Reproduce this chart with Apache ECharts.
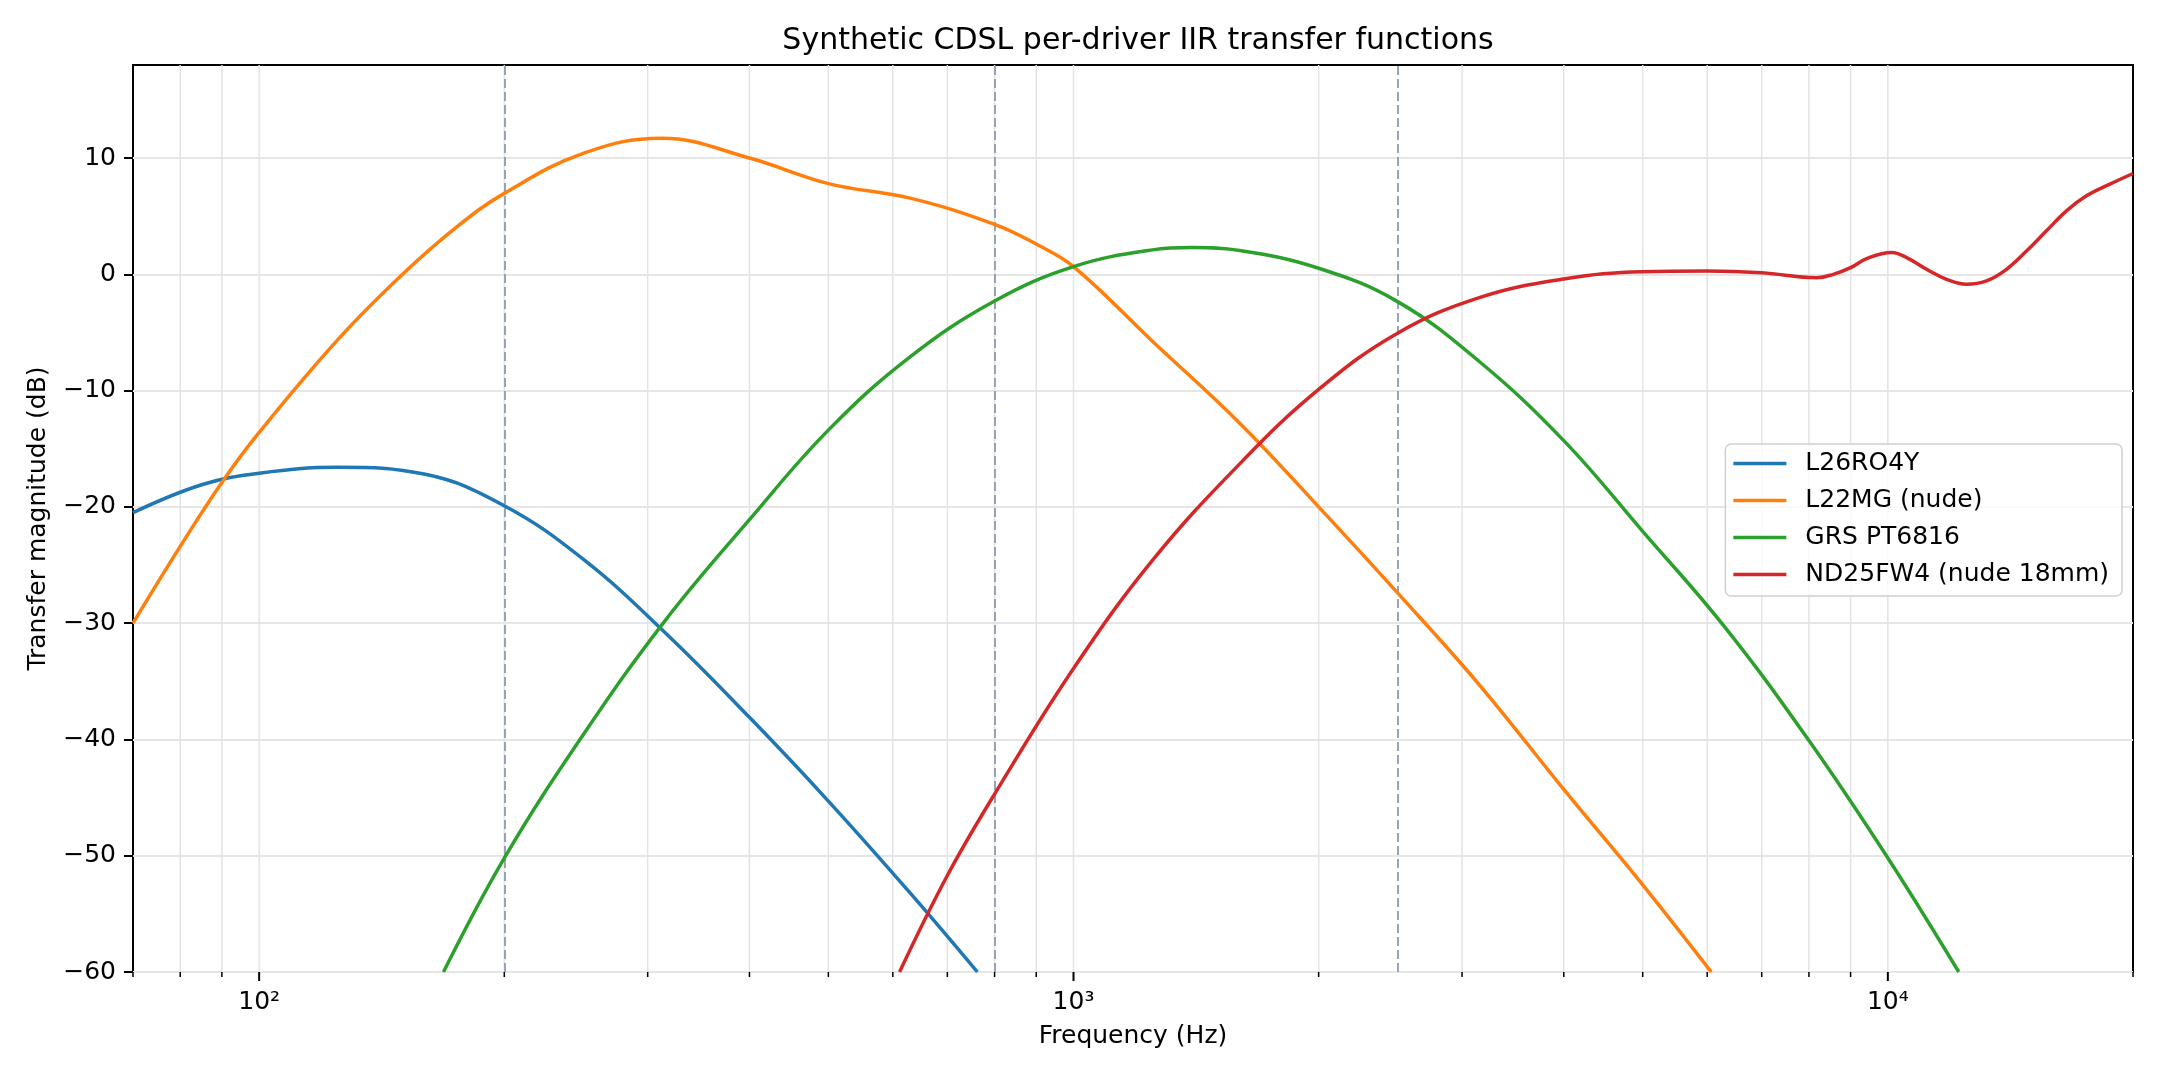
<!DOCTYPE html>
<html>
<head>
<meta charset="utf-8">
<script src="https://cdn.jsdelivr.net/npm/echarts@6/dist/echarts.min.js"></script>
<style>
  html, body { margin: 0; padding: 0; background: #fff; }
  #chart { width: 2160px; height: 1080px; }
</style>
</head>
<body>
<div id="chart"></div>
<script>
// 曲线数据 (频率 Hz / 幅度 dB)
const blueFreq = [70, 85, 100, 125, 160, 200, 250, 315, 400, 500, 630, 762]
const blueDb = [-20.5, -18.1, -17.1, -16.6, -17.2, -19.9, -24.5, -30.8, -38.1, -45.3, -53.2, -60]

const orangeFreq = [70, 80, 90, 100, 125, 150, 175, 200, 250, 312, 400, 500, 630, 800, 900, 1000, 1250, 1600, 2000, 2500, 3150, 4000, 5000, 6070]
const orangeDb = [-30, -23.4, -17.9, -13.6, -5.6, 0, 4.1, 6.96, 10.4, 11.7, 10.0, 7.8, 6.55, 4.3, 2.6, 0.66, -5.75, -12.8, -20.0, -27.4, -35.3, -44.3, -52.5, -60]

const greenFreq = [168.4, 200, 250, 315, 400, 500, 630, 800, 1000, 1250, 1400, 1600, 2000, 2500, 3150, 4000, 5000, 6300, 8000, 10000, 12220]
const greenDb = [-60, -50.2, -39.6, -29.8, -21.1, -13.4, -7.1, -2.3, 0.66, 2.1, 2.3, 2.05, 0.52, -2.35, -7.5, -14.3, -22.1, -30.3, -40.1, -50.2, -60]

const redFreq = [611.5, 700, 800, 1000, 1250, 1600, 2000, 2500, 3150, 4000, 5000, 6000, 7000, 8177, 8570, 9000, 9419, 10107, 10544, 11157, 11806, 12494, 13214, 13986, 14799, 15659, 16571, 17535, 18732, 20000]
const redDb = [-60, -51.7, -44.7, -33.9, -24.6, -16.3, -9.9, -5.06, -2.0, -0.4, 0.23, 0.29, 0.14, -0.29, 0, 0.57, 1.35, 1.87, 1.44, 0.43, -0.43, -0.86, -0.57, 0.43, 2.0, 3.74, 5.46, 6.75, 7.75, 8.67]

const seriesNames = ['L26RO4Y', 'L22MG (nude)', 'GRS PT6816', 'ND25FW4 (nude 18mm)']
const seriesColors = ['#1f77b4', '#ff7f0e', '#2ca02c', '#d62728']

// 分频点 (虚线)
const crossoverFreqs = [200, 800, 2500]

// 坐标轴刻度
const yTicks = [-60, -50, -40, -30, -20, -10, 0, 10]
const majorFreqs = [100, 1000, 10000]
const minorFreqs = [70, 80, 90, 200, 300, 400, 500, 600, 700, 800, 900, 2000, 3000, 4000, 5000, 6000, 7000, 8000, 9000, 20000]
const gridFreqs = [80, 90, 100, 200, 300, 400, 500, 600, 700, 800, 900, 1000, 2000, 3000, 4000, 5000, 6000, 7000, 8000, 9000, 10000]

const FONT = 'DejaVu Sans'
const Y_MIN = -60
const Y_MAX = 18

const chart = echarts.init(document.getElementById('chart'))

function pairs(fs, ds) {
  return fs.map((f, i) => [f, ds[i]])
}

function curve(name, color, fs, ds) {
  return {
    name: name,
    type: 'line',
    data: pairs(fs, ds),
    smooth: 0.4,
    showSymbol: false,
    symbol: 'none',
    clip: true,
    z: 5,
    lineStyle: { width: 3.5, color: color },
    itemStyle: { color: color }
  }
}

const supDigits = { 2: '\u00b2', 3: '\u00b3', 4: '\u2074' }

const option = {
  animation: false,
  backgroundColor: '#fff',
  title: {
    text: 'Synthetic CDSL per-driver IIR transfer functions',
    left: 1133,
    top: 21,
    textAlign: 'center',
    textStyle: { fontFamily: FONT, fontSize: 30, fontWeight: 'normal', color: '#000' }
  },
  grid: {
    left: 133,
    right: 27,
    top: 65,
    bottom: 108,
    show: true,
    borderColor: '#000',
    borderWidth: 2,
    backgroundColor: 'transparent'
  },
  legend: {
    data: seriesNames,
    orient: 'vertical',
    right: 38,
    top: 444,
    icon: 'rect',
    itemWidth: 53,
    itemHeight: 3.5,
    itemGap: 12,
    padding: [7, 13, 9, 8],
    backgroundColor: 'rgba(255,255,255,0.8)',
    borderColor: '#d0d0d0',
    borderWidth: 1.5,
    borderRadius: 6,
    textStyle: { fontFamily: FONT, fontSize: 25, color: '#000', padding: [0, 0, 0, 14] }
  },
  xAxis: {
    type: 'log',
    logBase: 10,
    min: 70,
    max: 20000,
    name: 'Frequency (Hz)',
    nameLocation: 'middle',
    nameGap: 52,
    nameTextStyle: { fontFamily: FONT, fontSize: 25, color: '#000' },
    axisLine: { show: false },
    axisTick: { show: false },
    splitLine: { show: false },
    axisLabel: {
      margin: 18,
      fontFamily: FONT,
      fontSize: 25,
      color: '#000',
      formatter: function (v) {
        const e = Math.round(Math.log10(v))
        if (Math.abs(Math.pow(10, e) - v) > 1e-6 * v) return ''
        return '10' + (supDigits[e] || '')
      }
    }
  },
  yAxis: {
    type: 'value',
    min: Y_MIN,
    max: Y_MAX,
    interval: 10,
    name: 'Transfer magnitude (dB)',
    nameLocation: 'middle',
    nameGap: 82,
    nameTextStyle: { fontFamily: FONT, fontSize: 25, color: '#000' },
    axisLine: { show: false },
    axisTick: { show: true, length: 9, customValues: yTicks, lineStyle: { color: '#000', width: 2 } },
    axisLabel: {
      customValues: yTicks,
      margin: 17,
      fontFamily: FONT,
      fontSize: 25,
      color: '#000',
      formatter: function (v) { return String(v).replace('-', '\u2212') }
    },
    splitLine: { show: true, lineStyle: { color: '#e6e6e6', width: 2 } }
  },
  series: [
    // 竖向网格线
    {
      type: 'custom',
      silent: true,
      z: 1,
      data: gridFreqs.map(f => [f, Y_MIN]),
      renderItem: function (params, api) {
        const f = api.value(0)
        const p1 = api.coord([f, Y_MAX])
        const p2 = api.coord([f, Y_MIN])
        return {
          type: 'line',
          shape: { x1: p1[0], y1: p1[1], x2: p2[0], y2: p2[1] },
          style: { stroke: '#e3e3e3', lineWidth: 1.5 }
        }
      }
    },
    // x 轴刻度 (主/次)
    {
      type: 'custom',
      silent: true,
      clip: false,
      z: 10,
      data: majorFreqs.map(f => [f, 9]).concat(minorFreqs.map(f => [f, 5])),
      renderItem: function (params, api) {
        const f = api.value(0)
        const len = api.value(1)
        const p = api.coord([f, Y_MIN])
        return {
          type: 'line',
          shape: { x1: p[0], y1: p[1], x2: p[0], y2: p[1] + len },
          style: { stroke: '#000', lineWidth: len > 6 ? 2 : 1.5 }
        }
      }
    },
    // 分频虚线
    {
      type: 'line',
      data: [],
      silent: true,
      z: 2,
      markLine: {
        silent: true,
        symbol: 'none',
        label: { show: false },
        lineStyle: { color: '#8c9cb5', width: 1.8, type: [9, 4] },
        data: crossoverFreqs.map(f => ({ xAxis: f }))
      }
    },
    curve(seriesNames[0], seriesColors[0], blueFreq, blueDb),
    curve(seriesNames[1], seriesColors[1], orangeFreq, orangeDb),
    curve(seriesNames[2], seriesColors[2], greenFreq, greenDb),
    curve(seriesNames[3], seriesColors[3], redFreq, redDb)
  ]
}

chart.setOption(option)
</script>
</body>
</html>
